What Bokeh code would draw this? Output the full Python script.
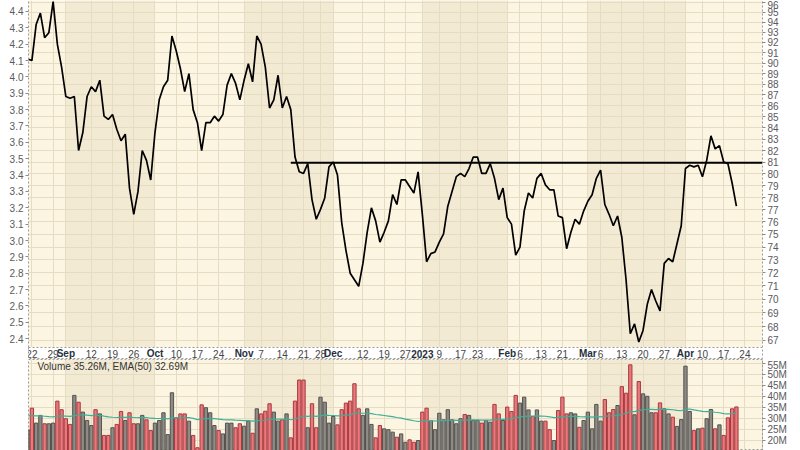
import numpy as np
import pandas as pd
from bokeh.plotting import figure
from bokeh.layouts import column
from bokeh.core.properties import value
from bokeh.models import (Range1d, LogScale, LinearAxis, FixedTicker, BasicTickFormatter,
                          BoxAnnotation, Label, Grid, ColumnDataSource)
from bokeh.embed import file_html
from bokeh.resources import INLINE

# ---------------- data ----------------
first_day = "2022-08-19"
last_axis_day = "2023-04-28"
market_holidays = ["2022-09-05", "2022-11-24", "2022-12-26", "2023-01-02",
                   "2023-01-16", "2023-02-20", "2023-04-07"]

close = [4.11, 4.10, 4.32, 4.39, 4.24, 4.27, 4.46, 4.20, 4.06, 3.88,
         3.87, 3.88, 3.55, 3.66, 3.88, 3.94, 3.91, 3.98, 3.76, 3.74,
         3.77, 3.68, 3.61, 3.65, 3.32, 3.16, 3.30, 3.55, 3.49, 3.37,
         3.66, 3.86, 3.94, 3.98, 4.25, 4.16, 4.05, 3.91, 4.02, 3.80,
         3.72, 3.55, 3.72, 3.72, 3.76, 3.73, 3.77, 3.95, 4.02, 3.96,
         3.86, 3.98, 4.08, 3.97, 4.25, 4.20, 4.06, 3.81, 3.86, 4.01,
         3.81, 3.88, 3.80, 3.51, 3.42, 3.41, 3.47, 3.25, 3.13, 3.19,
         3.26, 3.45, 3.48, 3.40, 3.11, 2.94, 2.80, 2.76, 2.72, 2.86,
         3.05, 3.20, 3.12, 2.99, 3.05, 3.12, 3.28, 3.22, 3.37, 3.37,
         3.33, 3.29, 3.42, 3.16, 2.87, 2.92, 2.93, 2.99, 3.04, 3.21,
         3.30, 3.39, 3.41, 3.39, 3.44, 3.51, 3.51, 3.41, 3.41, 3.47,
         3.38, 3.25, 3.32, 3.14, 3.10, 2.91, 2.96, 3.18, 3.29, 3.26,
         3.38, 3.41, 3.34, 3.31, 3.31, 3.15, 3.14, 2.95, 3.05, 3.13,
         3.10, 3.18, 3.24, 3.28, 3.38, 3.43, 3.22, 3.16, 3.09, 3.15,
         3.02, 2.76, 2.43, 2.49, 2.38, 2.45, 2.61, 2.70, 2.63, 2.57,
         2.86, 2.89, 2.87, 2.98, 3.09, 3.44, 3.46, 3.45, 3.46, 3.39,
         3.49, 3.64, 3.56, 3.58, 3.48, 3.47, 3.35, 3.21]

volume_m = [24.9, 34.7, 27.9, 31.4, 27.6, 27.6, 27.9, 37.9, 34.0, 29.9,
            27.3, 40.5, 37.4, 32.9, 29.1, 26.8, 34.0, 32.1, 22.3, 22.3,
            25.8, 27.3, 33.2, 29.1, 32.6, 27.6, 27.6, 31.4, 29.4, 24.5,
            27.9, 29.1, 32.6, 22.7, 41.7, 30.3, 32.1, 32.1, 28.8, 22.3,
            16.7, 36.2, 34.9, 32.6, 26.8, 24.5, 23.0, 27.9, 27.9, 25.8,
            27.6, 26.5, 28.8, 23.3, 34.4, 32.1, 33.3, 36.7, 32.9, 28.8,
            29.4, 32.1, 21.2, 37.9, 47.5, 47.5, 25.8, 36.7, 25.8, 39.7,
            37.4, 27.9, 30.9, 27.1, 34.0, 37.0, 37.9, 45.8, 34.4, 31.4,
            34.4, 27.3, 21.2, 26.8, 25.3, 24.9, 23.8, 21.5, 23.0, 19.2,
            20.3, 19.2, 20.0, 32.9, 34.7, 29.1, 24.9, 32.4, 29.4, 34.0,
            29.4, 27.6, 29.9, 31.8, 31.4, 29.1, 29.1, 27.9, 29.1, 28.3,
            36.4, 32.1, 29.1, 35.2, 33.2, 40.5, 37.0, 39.7, 33.9, 30.9,
            33.9, 28.8, 28.8, 24.9, 20.0, 33.6, 39.7, 32.1, 32.6, 32.1,
            26.0, 29.1, 32.9, 25.3, 36.4, 28.8, 38.6, 32.6, 34.1, 35.9,
            44.5, 41.5, 54.4, 31.7, 46.8, 41.2, 40.1, 32.6, 32.6, 37.1,
            34.4, 32.1, 30.6, 26.4, 29.5, 53.8, 33.2, 24.5, 25.3, 25.6,
            29.9, 34.1, 25.3, 27.1, 22.3, 30.3, 34.4, 35.26]

tick_dates = ["2022-08-22", "2022-08-29", "2022-09-01", "2022-09-12", "2022-09-19",
              "2022-09-26", "2022-10-03", "2022-10-10", "2022-10-17", "2022-10-24",
              "2022-11-01", "2022-11-07", "2022-11-14", "2022-11-21", "2022-11-28",
              "2022-12-01", "2022-12-12", "2022-12-19", "2022-12-27", "2023-01-03",
              "2023-01-09", "2023-01-17", "2023-01-23", "2023-02-01", "2023-02-06",
              "2023-02-13", "2023-02-21", "2023-03-01", "2023-03-06", "2023-03-13",
              "2023-03-20", "2023-03-27", "2023-04-03", "2023-04-10", "2023-04-17",
              "2023-04-24"]
tick_labels = ["22", "29", "Sep", "12", "19", "26", "Oct", "10", "17", "24",
               "Nov", "7", "14", "21", "28", "Dec", "12", "19", "27", "2023",
               "9", "17", "23", "Feb", "6", "13", "21", "Mar", "6", "13",
               "20", "27", "Apr", "10", "17", "24"]
bold_labels = ["Sep", "Oct", "Nov", "Dec", "2023", "Feb", "Mar", "Apr"]
shaded_months = ["2022-09", "2022-11", "2023-01", "2023-03"]

left_ticks = [2.4, 2.5, 2.6, 2.7, 2.8, 2.9, 3.0, 3.1, 3.2, 3.3, 3.4,
              3.5, 3.6, 3.7, 3.8, 3.9, 4.0, 4.1, 4.2, 4.3, 4.4]
right_ticks = [67, 68, 69, 70, 71, 72, 73, 74, 75, 76, 77, 78, 79, 80, 81,
               82, 83, 84, 85, 86, 87, 88, 89, 90, 91, 92, 93, 94, 95, 96]
volume_ticks = [15, 20, 25, 30, 35, 40, 45, 50, 55]

resistance_level = 3.475
resistance_start = "2022-11-16"
ema_span = 50
ema_seed = 31.4
volume_label = "Volume 35.26M, EMA(50) 32.69M"

# ---------------- derived ----------------
days = pd.bdate_range(first_day, last_axis_day)
days = days[~days.isin(pd.to_datetime(market_holidays))]
day_str = [d.strftime("%Y-%m-%d") for d in days]
pos = {d: k for k, d in enumerate(day_str)}

x = list(range(len(close)))
tick_pos = [pos[d] for d in tick_dates]

alpha = 2.0 / (ema_span + 1)
ema, prev = [], ema_seed
for val in volume_m:
    prev = prev + alpha * (val - prev)
    ema.append(prev)

up = [True] + [close[k] >= close[k - 1] for k in range(1, len(close))]
fill = ["#8e8b86" if u else "#e8797d" for u in up]
edge = ["#55524e" if u else "#a8393e" for u in up]

month_starts = []
seen = set()
for k, d in enumerate(day_str):
    m = d[:7]
    if m not in seen:
        seen.add(m)
        month_starts.append((m, k))

BG = "#fcf5e2"
SHADE = "#f3ead4"
GRID = "#e6dcc4"
BORDER = "#9a9a9a"
FONT = "Liberation Sans"
LEFT_B, RIGHT_B, FRAME_W = 28, 38, 734

x_range = Range1d(0.2, 0.2 + 172.95)


def shade(fig):
    for k, (m, start) in enumerate(month_starts):
        if m in shaded_months:
            end = month_starts[k + 1][1]
            fig.add_layout(BoxAnnotation(left=start, right=end, fill_color=SHADE,
                                         fill_alpha=1, line_color=None, level="image"))


def style_axis(ax):
    ax.major_label_text_font = FONT
    ax.major_label_text_font_size = "10px"
    ax.major_label_text_color = "#5a5a5a"
    ax.axis_line_color = BORDER
    ax.axis_line_dash = "2 2"
    ax.major_tick_out = 3
    ax.major_tick_in = 0
    ax.major_tick_line_color = "#8a8a8a"
    ax.minor_tick_line_color = None
    ax.major_label_standoff = 2


# ---------------- main panel ----------------
p = figure(frame_width=FRAME_W, frame_height=347, x_range=x_range,
           y_range=Range1d(2.346, 4.467), output_backend="svg",
           toolbar_location=None, min_border_left=LEFT_B, min_border_right=RIGHT_B,
           min_border_top=0, min_border_bottom=0, background_fill_color=BG,
           border_fill_color="white", outline_line_color=None, x_axis_location=None)

p.extra_y_ranges = {"r": Range1d(66.50, 96.19)}
p.extra_y_scales = {"r": LogScale()}
shade(p)

p.ygrid.visible = False
p.xgrid.ticker = FixedTicker(ticks=tick_pos)
p.xgrid.grid_line_color = GRID

raxis = LinearAxis(y_range_name="r", ticker=FixedTicker(ticks=right_ticks),
                   formatter=BasicTickFormatter())
p.add_layout(raxis, "right")
p.add_layout(Grid(dimension=1, ticker=FixedTicker(ticks=right_ticks), y_range_name="r",
                  grid_line_color=GRID, grid_line_width=1, level="underlay"))
style_axis(p.yaxis[0])
style_axis(raxis)
p.yaxis[0].ticker = FixedTicker(ticks=left_ticks)
p.yaxis[0].major_label_overrides = {t: f"{t:.1f}" for t in left_ticks}

p.line(x, close, line_color="black", line_width=1.7)
p.segment(x0=[pos[resistance_start]], y0=[resistance_level],
          x1=[x_range.end], y1=[resistance_level], line_color="black", line_width=2)

# ---------------- date row ----------------
d = figure(frame_width=FRAME_W, frame_height=12, x_range=x_range, y_range=Range1d(0, 1),
           output_backend="svg", toolbar_location=None, min_border_left=LEFT_B,
           min_border_right=RIGHT_B, min_border_top=0, min_border_bottom=0,
           background_fill_color="white", border_fill_color="white",
           x_axis_location=None, y_axis_location=None,
           outline_line_color=BORDER, outline_line_dash="2 2")
d.xgrid.visible = False
d.ygrid.visible = False

# a day label that sits just before a month label is nudged left (as the source chart does)
norm_x, norm_t, norm_off = [], [], []
bold_x, bold_t = [], []
for k, (tp, lab) in enumerate(zip(tick_pos, tick_labels)):
    if lab in bold_labels:
        bold_x.append(tp)
        bold_t.append(lab)
    else:
        nxt = tick_pos[k + 1] if k + 1 < len(tick_pos) else None
        crowded = (nxt is not None and tick_labels[k + 1] in bold_labels and nxt - tp <= 2)
        norm_x.append(tp)
        norm_t.append(lab)
        norm_off.append(-4 if crowded else 0)

d.text(x="x", y="y", text="t", x_offset="off", text_align="center",
       text_baseline="middle", text_font=value(FONT), text_font_size="10px",
       text_color="#454545",
       source=ColumnDataSource(dict(x=norm_x, y=[0.5] * len(norm_x), t=norm_t, off=norm_off)))
d.text(x=bold_x, y=[0.5] * len(bold_x), text=bold_t, text_align="center",
       text_baseline="middle", text_font=value(FONT), text_font_size="10px",
       text_font_style="bold", text_color="#26303c")

# ---------------- volume panel ----------------
v = figure(frame_width=FRAME_W, frame_height=91, x_range=x_range,
           y_range=Range1d(15.45, 56.82), output_backend="svg",
           toolbar_location=None, min_border_left=LEFT_B, min_border_right=RIGHT_B,
           min_border_top=0, min_border_bottom=0, background_fill_color=BG,
           border_fill_color="white", x_axis_location=None, y_axis_location="right",
           outline_line_color=BORDER, outline_line_dash="2 2")
shade(v)
v.xgrid.ticker = FixedTicker(ticks=tick_pos)
v.xgrid.grid_line_color = GRID
v.ygrid.grid_line_color = GRID
va = v.yaxis[0]
style_axis(va)
va.ticker = FixedTicker(ticks=volume_ticks)
va.major_label_overrides = {t: f"{t}M" for t in volume_ticks}
v.ygrid.ticker = FixedTicker(ticks=volume_ticks)

src = ColumnDataSource(dict(x=x, top=volume_m, fill=fill, edge=edge, ema=ema))
v.vbar(x="x", top="top", bottom=0, width=0.78, fill_color="fill", line_color="edge",
       line_width=1, source=src)
v.line("x", "ema", line_color="#3fae96", line_width=1.2, source=src)

vlo, vhi = v.y_range.start, v.y_range.end
v.add_layout(Label(x=2.3, y=vhi - 1.0 * (vhi - vlo) / 91.0, text=volume_label,
                   text_font=FONT, text_font_size="10px", text_baseline="top",
                   text_color="#333333"))

layout = column(p, d, v, spacing=0)
open("out.html", "w").write(file_html(layout, INLINE))
